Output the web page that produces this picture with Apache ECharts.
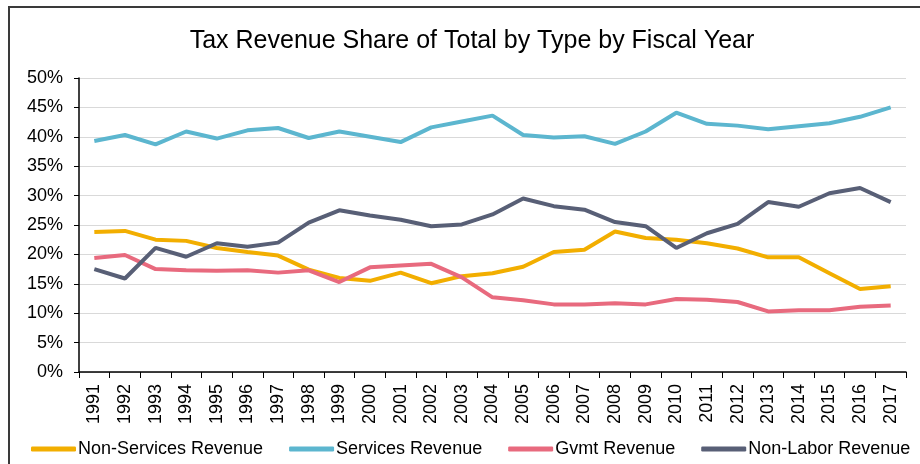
<!DOCTYPE html>
<html>
<head>
  <meta charset="utf-8" />
  <title>Tax Revenue Share</title>
  <style>
    html, body { margin: 0; padding: 0; background: #fff; }
    #frame { position: absolute; left: 8px; top: 6px; width: 1000px; height: 600px; border-left: 2px solid #3a3a3a; border-top: 2px solid #3a3a3a; }
    #main { position: absolute; left: 0; top: 0; width: 920px; height: 464px; }
  </style>
</head>
<body>
  <div id="frame"></div>
  <div id="main"></div>
  <script src="https://cdn.jsdelivr.net/npm/echarts@6/dist/echarts.min.js"></script>
  <script type="text/javascript">
    var years = ['1991', '1992', '1993', '1994', '1995', '1996', '1997', '1998', '1999', '2000',
      '2001', '2002', '2003', '2004', '2005', '2006', '2007', '2008', '2009', '2010',
      '2011', '2012', '2013', '2014', '2015', '2016', '2017'];

    // shares in percent
    var nonServices = [23.8, 24.0, 22.5, 22.3, 21.1, 20.4, 19.8, 17.4, 16.0, 15.5,
      16.9, 15.1, 16.3, 16.8, 17.9, 20.4, 20.8, 23.9, 22.8, 22.5,
      21.9, 21.0, 19.5, 19.5, 16.8, 14.1, 14.6];
    var services = [39.3, 40.3, 38.7, 40.9, 39.7, 41.1, 41.5, 39.8, 40.9, 40.0,
      39.1, 41.6, 42.6, 43.6, 40.3, 39.9, 40.1, 38.8, 40.9, 44.1,
      42.2, 41.9, 41.3, 41.8, 42.3, 43.4, 45.0];
    var gvmt = [19.4, 19.9, 17.5, 17.3, 17.2, 17.3, 16.9, 17.3, 15.3, 17.8,
      18.1, 18.4, 16.1, 12.7, 12.2, 11.5, 11.5, 11.7, 11.5, 12.4,
      12.3, 11.9, 10.3, 10.5, 10.5, 11.1, 11.3];
    var nonLabor = [17.5, 15.9, 21.1, 19.6, 21.9, 21.3, 22.0, 25.4, 27.5, 26.6,
      25.9, 24.8, 25.1, 26.8, 29.5, 28.2, 27.6, 25.5, 24.8, 21.1,
      23.6, 25.2, 28.9, 28.1, 30.4, 31.3, 28.9];

    var names = ['Non-Services Revenue', 'Services Revenue', 'Gvmt Revenue', 'Non-Labor Revenue'];
    var colors = ['#f2ae00', '#5cb6cf', '#e86a7e', '#585f76'];
    var values = [nonServices, services, gvmt, nonLabor];

    var chart = echarts.init(document.getElementById('main'));
    var font = 'Liberation Sans, Arial, sans-serif';

    chart.setOption({
      animation: false,
      color: colors,
      title: {
        text: 'Tax Revenue Share of Total by Type by Fiscal Year',
        left: 467,
        textAlign: 'center',
        top: 24,
        textStyle: { fontFamily: font, fontSize: 25, fontWeight: 'normal', color: '#000' }
      },
      legend: {
        data: names,
        left: 26,
        top: 435,
        width: 900,
        itemWidth: 45,
        itemHeight: 5,
        itemGap: 26,
        icon: 'roundRect',
        textStyle: { fontFamily: font, fontSize: 18, color: '#000', padding: [0, 0, 0, -3] }
      },
      grid: { left: 79, right: 14, top: 78, bottom: 92 },
      xAxis: {
        type: 'category',
        data: years,
        boundaryGap: true,
        axisLine: { lineStyle: { color: '#000', width: 1.5 } },
        axisTick: { show: true, alignWithLabel: false, length: 6, lineStyle: { color: '#000' } },
        axisLabel: { rotate: 90, interval: 0, fontFamily: font, fontSize: 18, color: '#000', margin: 12 }
      },
      yAxis: {
        type: 'value',
        min: 0,
        max: 50,
        interval: 5,
        axisLine: { show: true, lineStyle: { color: '#000', width: 1.5 } },
        axisTick: { show: true, length: 5, lineStyle: { color: '#000' } },
        axisLabel: { formatter: '{value}%', fontFamily: font, fontSize: 18, color: '#000', margin: 16 },
        splitLine: { lineStyle: { color: '#d9d9d9', width: 1.2 } }
      },
      series: names.map(function (n, i) {
        return {
          name: n,
          type: 'line',
          data: values[i],
          showSymbol: false,
          symbol: 'none',
          lineStyle: { width: 4, color: colors[i] }
        };
      })
    });
  </script>
</body>
</html>
